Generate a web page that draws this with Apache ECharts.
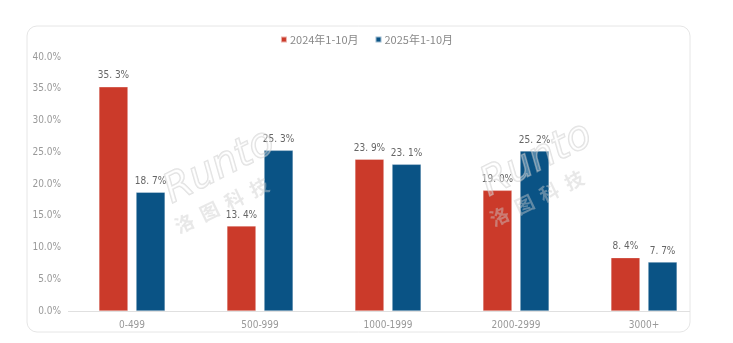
<!DOCTYPE html>
<html><head><meta charset="utf-8">
<script src="https://cdn.jsdelivr.net/npm/echarts@6/dist/echarts.min.js"></script>
<style>html,body{margin:0;padding:0;background:#fff}#c{width:733px;height:343px}</style>
</head><body><div id="c"></div>
<script>
const categories = ['0-499', '500-999', '1000-1999', '2000-2999', '3000+'];
const series2024 = [35.3, 13.4, 23.9, 19.0, 8.4];
const series2025 = [18.7, 25.3, 23.1, 25.2, 7.7];
const seriesNames = ['2024年1-10月', '2025年1-10月'];
const yTicks = [0, 5, 10, 15, 20, 25, 30, 35, 40];

const chart = echarts.init(document.getElementById('c'));
const fontFam = '"DejaVu Sans Condensed","Noto Sans CJK SC","Noto Sans",sans-serif';
const fmt = p => p.value.toFixed(1).replace('.', '. ') + '%';
const labelStyle = {show: true, position: 'top', distance: 6, color: '#666', fontSize: 10, fontFamily: fontFam, formatter: fmt};
function watermark(x, y, cdx) {
  return [
    {type: 'text', x: x, y: y, rotation: 0.47, z: 100,
     style: {text: 'Runto', font: 'italic 40px "DejaVu Sans"', fill: 'rgba(255,255,255,0.3)', stroke: 'rgba(195,195,195,0.5)', lineWidth: 1.5, textVerticalAlign: 'bottom'}},
    {type: 'text', x: x + cdx, y: y + 24, rotation: 0.45, z: 100,
     style: {text: '洛  图  科  技', font: 'bold 19px "Noto Sans CJK SC"', fill: 'rgba(205,205,205,0.45)', textVerticalAlign: 'bottom'}}
  ];
}
chart.setOption({
  animation: false,
  backgroundColor: '#fff',
  graphic: [
    {type: 'rect', shape: {x: 27, y: 26, width: 663, height: 306, r: 10}, z: -10, silent: true,
     style: {fill: '#fff', stroke: '#e6e6e6', lineWidth: 1}},
    {type: 'line', shape: {x1: 68, y1: 311.5, x2: 690, y2: 311.5}, z: 5,
     style: {stroke: '#e0e0e0', lineWidth: 1}}
  ].concat(watermark(176, 212, 4), watermark(493, 205, 2)),
  legend: {
    top: 29, left: 'center', itemWidth: 6, itemHeight: 6, itemGap: 16,
    icon: 'rect',
    textStyle: {color: '#888', fontSize: 11, fontFamily: '"Noto Sans CJK SC",sans-serif', padding: [0, 0, 0, -2]},
    data: seriesNames
  },
  grid: {left: 68, right: 25, top: 57, bottom: 32, containLabel: false},
  xAxis: {
    type: 'category', data: categories,
    axisLine: {show: false}, axisTick: {show: false},
    axisLabel: {color: '#999', fontSize: 10, fontFamily: fontFam, margin: 9}
  },
  yAxis: {
    type: 'value', min: yTicks[0], max: yTicks[yTicks.length - 1], interval: 5,
    splitLine: {show: false}, axisLine: {show: false}, axisTick: {show: false},
    axisLabel: {color: '#999', fontSize: 10, fontFamily: fontFam, margin: 7, formatter: v => v.toFixed(1) + '%'}
  },
  series: [
    {name: seriesNames[0], type: 'bar', data: series2024, barWidth: 29, barGap: '28%',
     itemStyle: {color: '#CB3A2A', borderColor: 'rgba(255,255,255,0.6)', borderWidth: 0.5}, label: labelStyle},
    {name: seriesNames[1], type: 'bar', data: series2025, barWidth: 29,
     itemStyle: {color: '#0A5385', borderColor: 'rgba(255,255,255,0.6)', borderWidth: 0.5}, label: labelStyle}
  ]
});
</script></body></html>
